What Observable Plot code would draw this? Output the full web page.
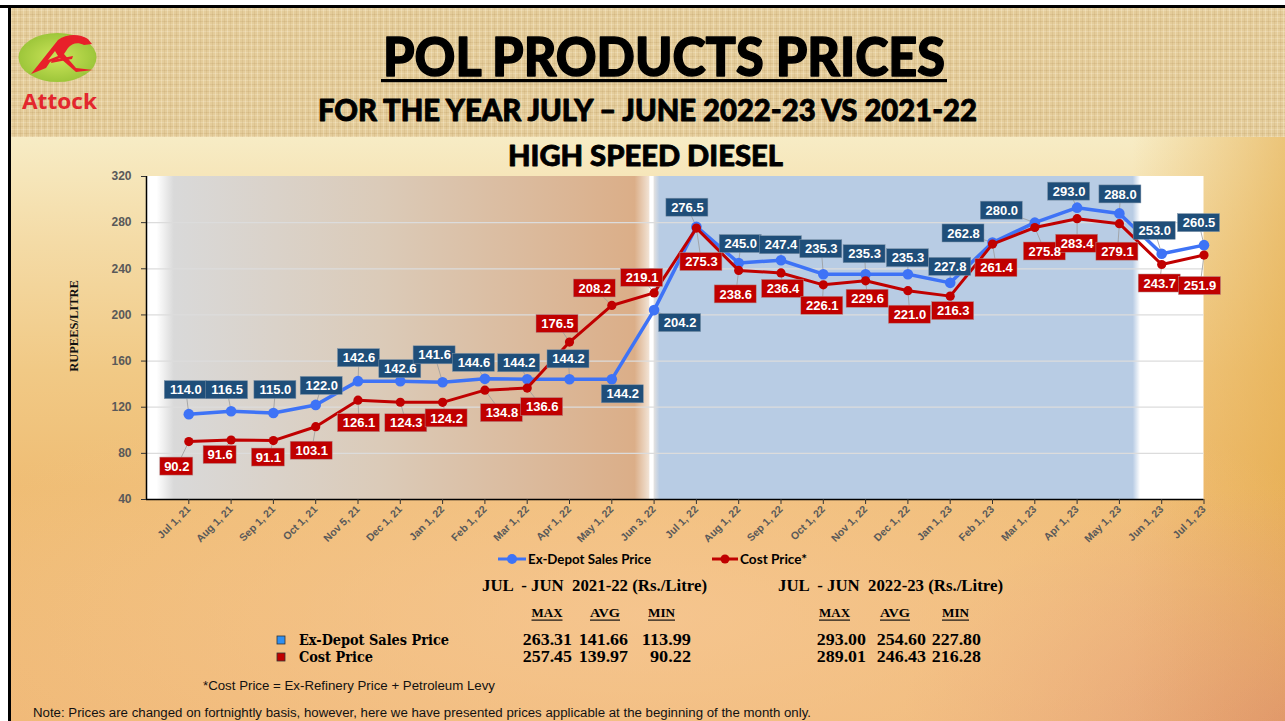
<!DOCTYPE html>
<html>
<head>
<meta charset="utf-8">
<script src="https://cdn.jsdelivr.net/npm/d3@7"></script>
<script src="https://cdn.jsdelivr.net/npm/@observablehq/plot@0.6"></script>
<style>
html,body{margin:0;padding:0;width:1285px;height:721px;overflow:hidden;background:#fff;}
#frameTop{position:absolute;left:0;top:5px;width:1285px;height:3px;background:#000;}
#frameLeft{position:absolute;left:8px;top:5px;width:3px;height:716px;background:#000;}
#band{position:absolute;left:11px;top:8px;width:1274px;height:129px;
 background:
 repeating-linear-gradient(90deg, rgba(255,246,222,0.28) 0 1px, rgba(0,0,0,0) 1px 3px, rgba(150,110,50,0.10) 3px 4px, rgba(0,0,0,0) 4px 6px),
 repeating-linear-gradient(0deg, rgba(255,246,222,0.22) 0 1px, rgba(0,0,0,0) 1px 3px, rgba(150,110,50,0.12) 3px 4px, rgba(0,0,0,0) 4px 7px),
 #e4cc9a;}
#lower{position:absolute;left:11px;top:137px;width:1274px;height:584px;
 background:
 radial-gradient(ellipse 60% 45% at 50% 82%, rgba(247,200,150,0.75), rgba(247,200,150,0) 100%),
 radial-gradient(ellipse 30% 40% at 100% 100%, rgba(220,140,110,0.7), rgba(220,140,110,0) 100%),
 linear-gradient(to left, rgba(228,170,70,0.6) 0%, rgba(228,170,70,0) 12%),
 linear-gradient(to bottom, #f7ecc5 0%, #f4dba6 18%, #f1c985 40%, #efbd74 60%, #f0b977 100%);}
#chart{position:absolute;left:0;top:160px;}
#overlay{position:absolute;left:0;top:0;pointer-events:none;}
</style>
</head>
<body>
<div id="frameTop"></div>
<div id="frameLeft"></div>
<div id="band"></div>
<div id="lower"></div>
<div id="chart"></div>
<svg id="overlay" width="1285" height="721"></svg>
<script>
// ---------- DATA ----------
const months = ["Jul 1, 21","Aug 1, 21","Sep 1, 21","Oct 1, 21","Nov 5, 21","Dec 1, 21","Jan 1, 22","Feb 1, 22","Mar 1, 22","Apr 1, 22","May 1, 22","Jun 3, 22","Jul 1, 22","Aug 1, 22","Sep 1, 22","Oct 1, 22","Nov 1, 22","Dec 1, 22","Jan 1, 23","Feb 1, 23","Mar 1, 23","Apr 1, 23","May 1, 23","Jun 1, 23","Jul 1, 23"];
const exDepot = [114.0,116.5,115.0,122.0,142.6,142.6,141.6,144.6,144.2,144.2,144.2,204.2,276.5,245.0,247.4,235.3,235.3,235.3,227.8,262.8,280.0,293.0,288.0,253.0,260.5];
const costPrice = [90.2,91.6,91.1,103.1,126.1,124.3,124.2,134.8,136.6,176.5,208.2,219.1,275.3,238.6,236.4,226.1,229.6,221.0,216.3,261.4,275.8,283.4,279.1,243.7,251.9];
const yTicks = [40,80,120,160,200,240,280,320];
const seriesNames = ["Ex-Depot Sales Price","Cost Price*"];
const period1 = ["Jul 1, 21","May 1, 22"];
const period2 = ["Jun 3, 22","May 1, 23"];
const tableHeaders = ["JUL  - JUN  2021-22 (Rs./Litre)","JUL  - JUN  2022-23 (Rs./Litre)"];
const statNames = ["MAX","AVG","MIN"];
const tableRows = ["Ex-Depot Sales Price","Cost Price"];
const stats2122 = [[263.31,141.66,113.99],[257.45,139.97,90.22]];
const stats2223 = [[293.00,254.60,227.80],[289.01,246.43,216.28]];
const footnote = "*Cost Price = Ex-Refinery Price + Petroleum Levy";
const note = "Note: Prices are changed on fortnightly basis, however, here we have presented prices applicable at the beginning of the month only.";

// label placement offsets in pixels (layout, not data)
const blueDx = [-3,-4,2,6,1,0,-8,-11,-8,-1,11,26,-9,2,0,-2,-1,0,0,-29,-33,-8,1,-7,-5];
const blueDy = [-24,-21,-23,-19,-23,-12,-27,-16,-16,-20,15,13,-19,-19,-15,-25,-20,-16,-16,-9,-12,-16,-19,-23,-22];
const redDx = [-12,-11,-5,-4,1,6,4,17,15,-12,-17,-12,5,-3,2,-1,2,2,3,4,10,0,-2,-2,-4];
const redDy = [25,15,17,24,23,21,16,23,19,-18,-17,-15,34,24,16,21,18,24,15,24,24,25,28,19,31];

// ---------- LAYOUT ----------
const W = 1285, H = 400, mL = 146, mR = 81.5, mT = 16, mB = 61;
const pxX = (W - mL - mR) / 25;
const pxY = (H - mT - mB) / (yTicks[yTicks.length-1] - yTicks[0]);

const BLUE = "#3e73f6", RED = "#c00000", BLUEBOX = "#1f4e79", REDBOX = "#c00000";

function labelRows(values, dxs, dys) {
  return values.map((v, i) => {
    const lx = i + dxs[i] / pxX, ly = v - dys[i] / pxY;
    const txt = v.toFixed(1);
    const hw = (txt.length === 5 ? 21 : 16.5);
    return {i, v, txt, lx, ly, x1: lx - hw / pxX, x2: lx + hw / pxX, y1: ly - 9 / pxY, y2: ly + 9 / pxY};
  });
}
const blueRows = labelRows(exDepot, blueDx, blueDy);
const redRows = labelRows(costPrice, redDx, redDy);

const idx = m => months.indexOf(m);

const defsMark = () => {
  const defs = d3.create("svg:defs");
  const g1 = defs.append("linearGradient").attr("id", "tanGrad").attr("x1", 0).attr("x2", 1).attr("y1", 0).attr("y2", 0);
  [[0, "#ffffff"], [0.035, "#d9d9d9"], [0.45, "#dbcbb9"], [0.97, "#dbae88"], [1, "#f2e4d6"]]
    .forEach(([o, c]) => g1.append("stop").attr("offset", o).attr("stop-color", c));
  const g2 = defs.append("linearGradient").attr("id", "blueGrad").attr("x1", 0).attr("x2", 1).attr("y1", 0).attr("y2", 0);
  [[0, "#e6e3e0"], [0.012, "#b8cce4"], [0.985, "#b8cce4"], [1, "#ffffff"]]
    .forEach(([o, c]) => g2.append("stop").attr("offset", o).attr("stop-color", c));
  return defs.node();
};

const labelFont = "Liberation Sans, Arial, sans-serif";
const marks = [
  defsMark,
  Plot.rect([0], {x1: -1, x2: 24, y1: 40, y2: 320, fill: "white"}),
  Plot.rect([period1], {x1: d => idx(d[0]) - 0.75, x2: d => idx(d[1]) + 0.9, y1: 40, y2: 320, fill: "url(#tanGrad)"}),
  Plot.rect([period2], {x1: d => idx(d[0]), x2: d => idx(d[1]) + 0.5, y1: 40, y2: 320, fill: "url(#blueGrad)"}),
  Plot.ruleY(yTicks.filter(t => t > 40 && t < 320), {stroke: "#dcdcdc", strokeWidth: 1.3}),
  Plot.link(blueRows, {x1: "i", y1: "v", x2: "lx", y2: "ly", stroke: "#9a9a9a", strokeWidth: 0.8}),
  Plot.link(redRows, {x1: "i", y1: "v", x2: "lx", y2: "ly", stroke: "#9a9a9a", strokeWidth: 0.8}),
  Plot.line(blueRows, {x: "i", y: "v", stroke: BLUE, strokeWidth: 3.5}),
  Plot.dot(blueRows, {x: "i", y: "v", r: 5.3, fill: BLUE}),
  Plot.line(redRows, {x: "i", y: "v", stroke: RED, strokeWidth: 3}),
  Plot.dot(redRows, {x: "i", y: "v", r: 4.6, fill: RED}),
  Plot.rect(blueRows, {x1: "x1", x2: "x2", y1: "y1", y2: "y2", fill: BLUEBOX, stroke: "#7f93a8", strokeWidth: 0.5}),
  Plot.rect(redRows, {x1: "x1", x2: "x2", y1: "y1", y2: "y2", fill: REDBOX, stroke: "#b09090", strokeWidth: 0.5}),
  Plot.text(blueRows, {x: "lx", y: "ly", text: "txt", fill: "white", fontSize: 13, fontWeight: "bold", fontFamily: labelFont}),
  Plot.text(redRows, {x: "lx", y: "ly", text: "txt", fill: "white", fontSize: 13, fontWeight: "bold", fontFamily: labelFont}),
  Plot.ruleX([-1], {stroke: "#000", strokeWidth: 1.5}),
  Plot.ruleY([40], {stroke: "#000", strokeWidth: 1.5}),
  Plot.axisX(d3.range(months.length), {tickFormat: i => months[i], tickRotate: -45, tickSize: 5, tickPadding: 3, fontSize: 10.5, fontWeight: "bold", fill: "#595959", stroke: "#333", label: null}),
  Plot.axisY(yTicks, {tickFormat: d => d, tickSize: 5, tickPadding: 10, fontSize: 12, fontWeight: "bold", fill: "#595959", stroke: "#333", label: null}),
  Plot.text(["RUPEES/LITRE"], {frameAnchor: "left", dx: -73, dy: -12, rotate: -90, textAnchor: "middle", fontFamily: "Liberation Serif, serif", fontWeight: "bold", fontSize: 12.5, fill: "#111"})
];

const chart = Plot.plot({
  width: W, height: H,
  marginLeft: mL, marginRight: mR, marginTop: mT, marginBottom: mB,
  x: {type: "linear", domain: [-1, 24]},
  y: {domain: [40, 320]},
  style: {background: "transparent", fontFamily: labelFont, overflow: "visible"},
  marks
});
document.getElementById("chart").appendChild(chart);

// ---------- OVERLAY: logo, titles, legend, table, notes ----------
const ov = d3.select("#overlay");
function txt(s, x, y, opts = {}) {
  const t = ov.append("text").attr("x", x).attr("y", y).text(s)
    .attr("font-family", opts.family || "Lato, sans-serif")
    .attr("font-size", opts.size || 14)
    .attr("font-weight", opts.weight || "bold")
    .attr("fill", opts.fill || "#000")
    .attr("text-anchor", opts.anchor || "start")
    .style("white-space", "pre");
  if (opts.len) t.attr("textLength", opts.len).attr("lengthAdjust", "spacingAndGlyphs");
  if (opts.stroke) t.attr("stroke", opts.fill || "#000").attr("stroke-width", opts.stroke).attr("stroke-linejoin", "round");
  return t;
}

// logo
const lg = ov.append("defs").append("radialGradient").attr("id", "logoG");
lg.append("stop").attr("offset", 0).attr("stop-color", "#cde55a");
lg.append("stop").attr("offset", 1).attr("stop-color", "#9dc63a");
ov.append("ellipse").attr("cx", 57.5).attr("cy", 57.5).attr("rx", 39).attr("ry", 24.5).attr("fill", "url(#logoG)");
ov.append("path").attr("d", "M31 74 L58 40 C66 34 79 33 88 39 L92 44 L84 45 C78 42 72 43 68 48 L64 54 L76 68 L93 70 L76 72 L60 58 L50 62 L46 68 Z M55 51 L48 60 L58 56 Z")
  .attr("fill", "#e8202a");
ov.append("path").attr("d", "M52 60 L73 56 L72 59 L51 63 Z").attr("fill", "#e8202a");
txt("Attock", 22, 109, {size: 21, family: "Open Sans, sans-serif", weight: "bold", fill: "#e3262d", len: 75});

// titles
txt("POL PRODUCTS PRICES", 383, 76, {size: 54, weight: 900, len: 562, stroke: 1.4});
ov.append("rect").attr("x", 381).attr("y", 79).attr("width", 566).attr("height", 3.2).attr("fill", "#000");
txt("FOR THE YEAR JULY \u2013 JUNE 2022-23 VS 2021-22", 318, 121, {size: 30, weight: 900, len: 659, stroke: 0.9});
txt("HIGH SPEED DIESEL", 508, 166, {size: 29, weight: 900, len: 275, stroke: 0.8});

// legend
ov.append("line").attr("x1", 498).attr("x2", 526).attr("y1", 559).attr("y2", 559).attr("stroke", BLUE).attr("stroke-width", 3);
ov.append("circle").attr("cx", 512).attr("cy", 559).attr("r", 5).attr("fill", BLUE);
txt(seriesNames[0], 528, 564, {size: 14, weight: "bold", len: 123});
ov.append("line").attr("x1", 712).attr("x2", 738).attr("y1", 559).attr("y2", 559).attr("stroke", RED).attr("stroke-width", 3);
ov.append("circle").attr("cx", 725).attr("cy", 559).attr("r", 4.5).attr("fill", RED);
txt(seriesNames[1], 740, 564, {size: 14, weight: "bold", len: 67});

// table
const serif = "Liberation Serif, 'Times New Roman', serif";
txt(tableHeaders[0], 482, 591, {size: 16, family: serif, len: 225});
txt(tableHeaders[1], 778, 591, {size: 16, family: serif, len: 225});
const statCenters = [[547, 605, 661.5], [834.5, 895, 955.5]];
const statWidths = [31, 30, 27];
statCenters.forEach(cs => cs.forEach((c, k) => {
  txt(statNames[k], c, 617, {size: 13, family: serif, anchor: "middle", len: statWidths[k]});
  ov.append("rect").attr("x", c - statWidths[k] / 2).attr("y", 619.5).attr("width", statWidths[k]).attr("height", 1.2).attr("fill", "#111");
}));
const rowY = [645, 662];
const swatch = ["#2f8ff0", "#c00000"];
tableRows.forEach((r, j) => {
  ov.append("rect").attr("x", 277).attr("y", rowY[j] - 9).attr("width", 8).attr("height", 8).attr("fill", swatch[j]).attr("stroke", "#333").attr("stroke-width", 0.8);
  txt(r, 299, rowY[j], {size: 15, family: "DejaVu Serif, serif", len: j === 0 ? 150 : 74});
});
const ends = [[572, 628, 691], [866, 926, 981]];
[stats2122, stats2223].forEach((tbl, t) => tbl.forEach((row, j) => row.forEach((v, k) => {
  const s = v.toFixed(2);
  txt(s, ends[t][k], rowY[j], {size: 16.5, family: serif, anchor: "end", len: s.length * 8.2});
})));

// notes
txt(footnote, 203, 690, {size: 12.5, family: "Liberation Sans, Arial, sans-serif", weight: "normal", fill: "#111", len: 292});
txt(note, 33, 717, {size: 12.5, family: "Liberation Sans, Arial, sans-serif", weight: "normal", fill: "#111", len: 778});
</script>
</body>
</html>
